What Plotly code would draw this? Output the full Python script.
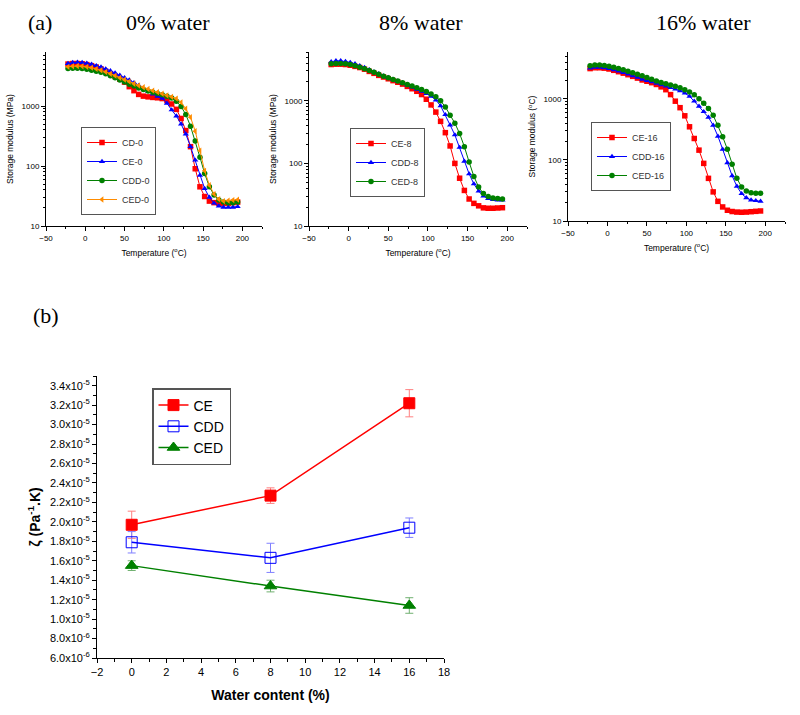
import plotly.graph_objects as go

# ---------- panel (a): storage modulus (MPa) vs temperature ----------
temps = [-22, -16, -10, -4, 2, 8, 14, 20, 26, 32, 38, 44, 50, 56, 62, 68, 74, 80, 86,
         92, 98, 104, 110, 116, 122, 128, 134, 140, 146, 152, 158, 164, 170, 176, 182, 188, 194]

# 0% water
cd_0 = [5000, 5100, 5100, 5050, 4900, 4700, 4450, 4150, 3800, 3450, 3100, 2800, 2500, 2100,
        1800, 1560, 1460, 1420, 1390, 1370, 1330, 1230, 1080, 880, 620, 390, 210, 90, 45, 31,
        26, 24.5, 24, 24, 24, 24.5, 25]
ce_0 = [5100, 5300, 5350, 5300, 5150, 4950, 4700, 4450, 4150, 3850, 3550, 3250, 2950, 2700,
        2450, 2200, 1950, 1750, 1580, 1450, 1340, 1110, 860, 680, 500, 340, 210, 125, 70, 42,
        30, 24, 21.5, 20.5, 20.5, 20.5, 21]
cdd_0 = [4200, 4250, 4250, 4200, 4100, 3950, 3800, 3650, 3450, 3200, 2950, 2700, 2500, 2300,
         2150, 2000, 1880, 1780, 1700, 1620, 1540, 1460, 1360, 1200, 980, 720, 460, 260, 140,
         75, 45, 33, 27, 25, 24.5, 24.5, 25]
ced_0 = [4500, 4600, 4650, 4600, 4500, 4350, 4150, 3950, 3700, 3450, 3200, 2950, 2750, 2550,
         2350, 2200, 2050, 1920, 1800, 1700, 1600, 1500, 1420, 1330, 1150, 900, 650, 380, 180,
         83, 48, 34, 28, 26, 26.5, 27, 27.5]

# 8% water
ce_8 = [3800, 3850, 3850, 3800, 3700, 3550, 3400, 3200, 2950, 2750, 2550, 2400, 2250, 2100,
        1980, 1850, 1700, 1560, 1420, 1260, 1060, 860, 660, 470, 310, 190, 100, 58, 37, 27,
        23, 21, 19.5, 19.2, 19.2, 19.4, 19.6]
cdd_8 = [4200, 4350, 4350, 4250, 4100, 3900, 3650, 3400, 3150, 2900, 2700, 2500, 2350, 2200,
         2050, 1900, 1780, 1650, 1530, 1420, 1300, 1180, 1030, 830, 600, 410, 285, 180, 108,
         68, 47, 36, 30, 27.5, 26.5, 26, 26]
ced_8 = [3900, 3950, 3950, 3900, 3800, 3650, 3450, 3250, 3050, 2850, 2650, 2480, 2330, 2200,
         2070, 1950, 1830, 1720, 1620, 1510, 1410, 1290, 1160, 1000, 800, 590, 440, 300, 185,
         105, 62, 42, 33, 29.5, 28, 27.5, 27]

# 16% water
ce_16 = [3150, 3250, 3250, 3200, 3100, 2950, 2800, 2650, 2500, 2350, 2200, 2050, 1950, 1850,
         1730, 1580, 1420, 1180, 920, 720, 530, 350, 225, 145, 88, 50, 30, 21, 17, 15, 14.3,
         14, 13.9, 14, 14.2, 14.4, 14.6]
cdd_16 = [3200, 3300, 3300, 3250, 3150, 3000, 2850, 2700, 2550, 2400, 2250, 2100, 2000, 1900,
          1800, 1700, 1620, 1530, 1450, 1360, 1250, 1100, 920, 760, 620, 500, 370, 245, 150,
          90, 55, 37, 28, 24, 22, 21.5, 21]
ced_16 = [3500, 3600, 3600, 3550, 3450, 3300, 3150, 3000, 2850, 2700, 2550, 2400, 2250, 2100,
          1980, 1870, 1780, 1700, 1620, 1530, 1420, 1300, 1170, 1010, 850, 700, 540, 370, 240,
          150, 85, 50, 36, 31, 29, 28.5, 28.5]

# ---------- panel (b): zeta vs water content ----------
water = [0, 8, 16]
zeta_ce = [1.97e-5, 2.27e-5, 3.22e-5]
err_ce = [0.14e-5, 0.08e-5, 0.14e-5]
zeta_cdd = [1.79e-5, 1.63e-5, 1.94e-5]
err_cdd = [0.11e-5, 0.15e-5, 0.10e-5]
zeta_ced = [1.55e-5, 1.34e-5, 1.14e-5]
err_ced = [0.05e-5, 0.06e-5, 0.08e-5]

zeta_ticks = [6e-6, 8e-6, 1.0e-5, 1.2e-5, 1.4e-5, 1.6e-5, 1.8e-5, 2.0e-5, 2.2e-5, 2.4e-5,
              2.6e-5, 2.8e-5, 3.0e-5, 3.2e-5, 3.4e-5]
zeta_ticktext = ["6.0x10<sup>-6</sup>", "8.0x10<sup>-6</sup>", "1.0x10<sup>-5</sup>",
                 "1.2x10<sup>-5</sup>", "1.4x10<sup>-5</sup>", "1.6x10<sup>-5</sup>",
                 "1.8x10<sup>-5</sup>", "2.0x10<sup>-5</sup>", "2.2x10<sup>-5</sup>",
                 "2.4x10<sup>-5</sup>", "2.6x10<sup>-5</sup>", "2.8x10<sup>-5</sup>",
                 "3.0x10<sup>-5</sup>", "3.2x10<sup>-5</sup>", "3.4x10<sup>-5</sup>"]

RED, BLUE, GREEN, ORANGE = "#ff0000", "#0000ff", "#008000", "#ff8c00"
W, H = 800, 715
SANS = "Liberation Sans, Arial"


def px_x(a, b):
    return [a / W, b / W]


def px_y(top, bottom):
    return [1 - bottom / H, 1 - top / H]


fig = go.Figure()


def dma(y, name, color, symbol, n, legend):
    fig.add_trace(go.Scatter(
        x=temps, y=y, name=name, mode="lines+markers",
        line=dict(color=color, width=1),
        marker=dict(color=color, symbol=symbol, size=5.5),
        xaxis="x" + ("" if n == 1 else str(n)), yaxis="y" + ("" if n == 1 else str(n)),
        legend=legend))


dma(cd_0, "CD-0", RED, "square", 1, "legend")
dma(ce_0, "CE-0", BLUE, "triangle-up", 1, "legend")
dma(cdd_0, "CDD-0", GREEN, "circle", 1, "legend")
dma(ced_0, "CED-0", ORANGE, "triangle-left", 1, "legend")

dma(ce_8, "CE-8", RED, "square", 2, "legend2")
dma(cdd_8, "CDD-8", BLUE, "triangle-up", 2, "legend2")
dma(ced_8, "CED-8", GREEN, "circle", 2, "legend2")

dma(ce_16, "CE-16", RED, "square", 3, "legend3")
dma(cdd_16, "CDD-16", BLUE, "triangle-up", 3, "legend3")
dma(ced_16, "CED-16", GREEN, "circle", 3, "legend3")


def zeta(y, err, name, color, errcolor, symbol):
    fig.add_trace(go.Scatter(
        x=water, y=y, name=name, mode="lines+markers",
        line=dict(color=color, width=1.5),
        marker=dict(color=color, symbol=symbol, size=11,
                    line=dict(color=color, width=1)),
        error_y=dict(type="data", array=err, color=errcolor, thickness=1, width=4),
        xaxis="x4", yaxis="y4", legend="legend4"))


zeta(zeta_ce, err_ce, "CE", RED, "#ff8080", "square")
zeta(zeta_cdd, err_cdd, "CDD", BLUE, "#8080ff", "square-open")
zeta(zeta_ced, err_ced, "CED", GREEN, "#70b070", "triangle-up")

small = dict(family=SANS, size=8, color="black")
axis_common = dict(showline=True, linecolor="black", linewidth=1, ticks="outside",
                   ticklen=4, tickcolor="black", showgrid=False, zeroline=False,
                   tickfont=small, mirror=False, automargin=False)

layout = dict(width=W, height=H, margin=dict(l=0, r=0, t=0, b=0, autoexpand=False),
              plot_bgcolor="white", paper_bgcolor="white", showlegend=True)

panels = [(1, px_x(46, 262), px_y(52, 226), [1, 3.9], "Storage modulus (MPa)"),
          (2, px_x(309, 527), px_y(52, 226), [1, 3.78], "Storage modulus (MPa)"),
          (3, px_x(568, 785), px_y(52, 221), [1, 3.77], "Storage modulus (<sup>o</sup>C)")]
for n, dx, dy, yr, ytitle in panels:
    s = "" if n == 1 else str(n)
    layout["xaxis" + s] = dict(axis_common, domain=dx, range=[-50, 225], dtick=50,
                               tick0=-50, anchor="y" + s,
                               minor=dict(dtick=25, ticks="outside", ticklen=2,
                                          tickcolor="black"),
                               title=dict(text="Temperature (<sup>o</sup>C)",
                                          font=dict(family=SANS, size=8.5, color="black"),
                                          standoff=8))
    layout["yaxis" + s] = dict(axis_common, domain=dy, type="log", range=yr, dtick=1,
                               anchor="x" + s,
                               minor=dict(dtick="D1", ticks="outside", ticklen=2,
                                          tickcolor="black"),
                               title=dict(text=ytitle,
                                          font=dict(family=SANS, size=8.5, color="black"),
                                          standoff=6))

big = dict(family=SANS, size=11, color="black")
layout["xaxis4"] = dict(axis_common, domain=px_x(97, 444), range=[-2, 18], dtick=2,
                        anchor="y4", tickfont=big,
                        minor=dict(dtick=1, ticks="outside", ticklen=3, tickcolor="black"),
                        title=dict(text="<b>Water content (%)</b>",
                                   font=dict(family=SANS, size=14, color="black"),
                                   standoff=12))
layout["yaxis4"] = dict(axis_common, domain=px_y(376, 658), range=[6e-6, 3.5e-5],
                        anchor="x4", tickvals=zeta_ticks, ticktext=zeta_ticktext,
                        tickfont=big,
                        minor=dict(dtick=1e-6, ticks="outside", ticklen=3,
                                   tickcolor="black"),
                        title=dict(text="<b>ζ (Pa<sup>-1</sup>.K)</b>",
                                   font=dict(family=SANS, size=14, color="black"),
                                   standoff=6))

leg_small = dict(bgcolor="white", bordercolor="#555555", borderwidth=1,
                 font=dict(family=SANS, size=9, color="#333333"),
                 xanchor="left", yanchor="top", tracegroupgap=0, itemwidth=30)
layout["legend"] = dict(leg_small, x=81 / W, y=1 - 127 / H)
layout["legend2"] = dict(leg_small, x=350 / W, y=1 - 128 / H)
layout["legend3"] = dict(leg_small, x=591 / W, y=1 - 122 / H)
layout["legend4"] = dict(leg_small, x=152 / W, y=1 - 388 / H, borderwidth=1.5,
                         font=dict(family=SANS, size=14, color="black"))

serif = dict(family="Liberation Serif, Times New Roman", size=22, color="black")
labels = [("(a)", 40, 22), ("0% water", 168, 22), ("8% water", 421, 22),
          ("16% water", 703, 22), ("(b)", 46, 315)]
layout["annotations"] = [dict(text=t, x=x / W, y=1 - y / H, xref="paper", yref="paper",
                              showarrow=False, font=serif, xanchor="center",
                              yanchor="middle") for t, x, y in labels]

fig.update_layout(layout)
# drop the browser's default body margin so the figure sits at the page corner
fig.write_html("out.html", config={"displayModeBar": False},
               post_script="document.body.style.margin='0';document.body.style.overflow='hidden';")
